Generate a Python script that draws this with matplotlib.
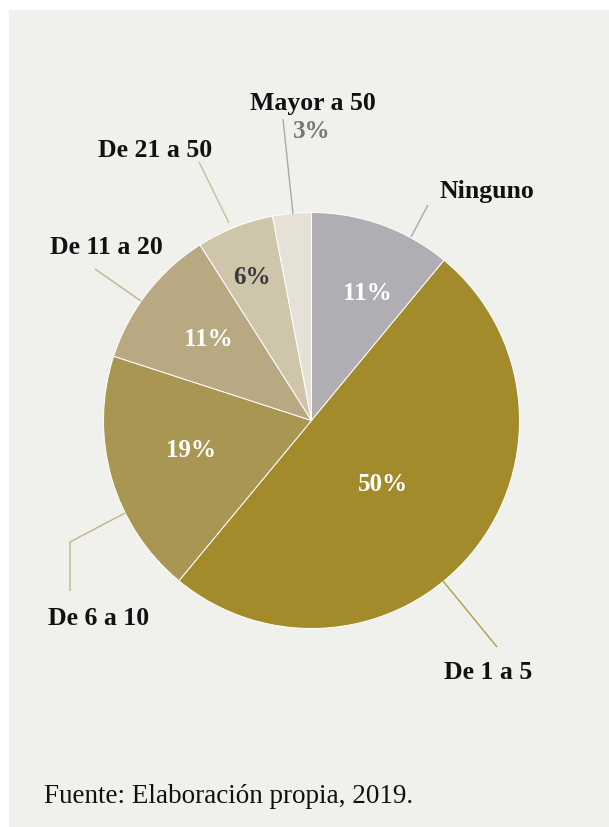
import matplotlib
matplotlib.use("Agg")
import matplotlib.pyplot as plt
from matplotlib.patches import Rectangle

# Share of respondents by number of workers
categories = ["Ninguno", "De 1 a 5", "De 6 a 10", "De 11 a 20", "De 21 a 50", "Mayor a 50"]
values = [11, 50, 19, 11, 6, 3]
source_note = "Fuente: Elaboración propia, 2019."

# Styling
slice_colors = ["#b0aeb3", "#a38b2b", "#a99653", "#b8a982", "#cfc5ab", "#e5e1d6"]
pct_colors = ["white", "white", "white", "white", "#3a3a3a", "#77777a"]
leader_colors = ["#a9a9ad", "#b39c4f", "#c2b389", "#c2b389", "#c9bd9c", "#a9a9ad"]

W, H = 609, 828


def fy(y):
    """Convert a top-down pixel row to the axes' bottom-up coordinate."""
    return H - y


# Layout (pixel positions, top-down)
pie_center = (311.5, 421.5)
pie_radius = 208
name_pos = [(487, 198), (488, 679), (99, 625), (106, 254), (155, 157), (313, 110)]
pct_pos = [(367, 293), (383, 485), (191, 451), (208, 339), (252, 278), (312, 138)]
leaders = [
    [(428, 206), (411, 238)],
    [(443, 582), (497, 648)],
    [(125, 514), (70, 543), (70, 592)],
    [(141, 302), (95, 270)],
    [(229, 224), (199, 163)],
    [(293, 215), (283, 120)],
]

plt.rcParams["font.family"] = ["Liberation Serif", "DejaVu Serif"]

fig = plt.figure(figsize=(W / 100, H / 100), dpi=100, facecolor="white")
ax = fig.add_axes([0, 0, 1, 1])
ax.add_patch(Rectangle((9, 0), W - 9, H - 11, facecolor="#f0f0ec", edgecolor="none", zorder=0))

ax.pie(
    values,
    colors=slice_colors,
    startangle=90,
    counterclock=False,
    center=(pie_center[0], fy(pie_center[1])),
    radius=pie_radius,
    wedgeprops=dict(edgecolor="white", linewidth=0.7),
)

for pts, c in zip(leaders, leader_colors):
    xs = [p[0] for p in pts]
    ys = [fy(p[1]) for p in pts]
    ax.plot(xs, ys, color=c, lw=1.0, solid_capstyle="butt", zorder=1)

for name, (x, y) in zip(categories, name_pos):
    ax.text(x, fy(y), name, ha="center", va="baseline", fontsize=18.5,
            fontweight="bold", color="#111111")

for i, (v, (x, y), c) in enumerate(zip(values, pct_pos, pct_colors)):
    va = "baseline" if i == len(values) - 1 else "center"
    ax.text(x, fy(y), f"{v}%", ha="center", va=va, fontsize=18,
            fontweight="bold", color=c)

ax.text(44, fy(803), source_note, ha="left", va="baseline", fontsize=19.5, color="#111111")

ax.set_xlim(0, W)
ax.set_ylim(0, H)
ax.set_aspect("auto")
ax.axis("off")

fig.savefig("out.png", dpi=100, facecolor="white")
